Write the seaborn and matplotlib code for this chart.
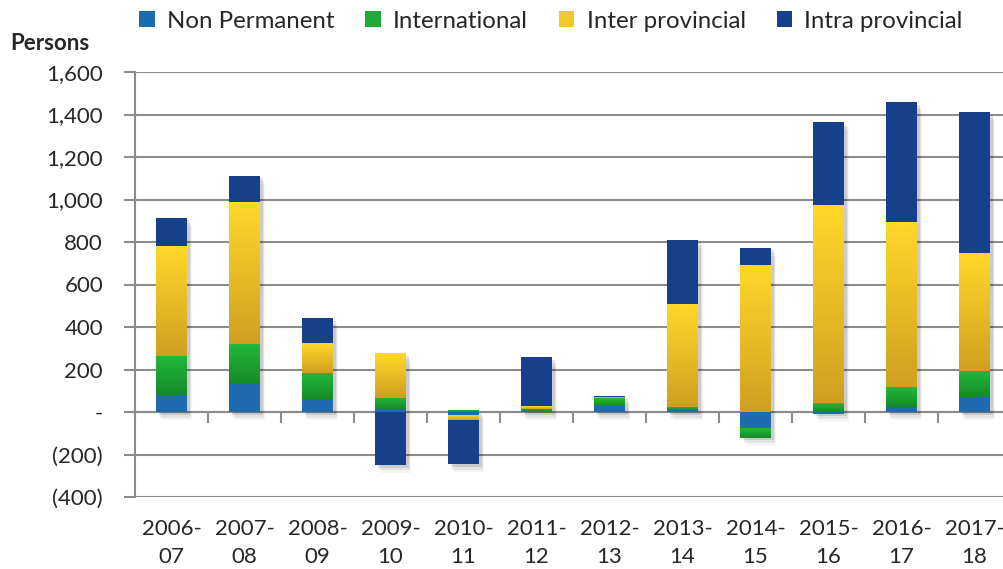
import numpy as np
import pandas as pd
import matplotlib
matplotlib.use("Agg")
import matplotlib.pyplot as plt
import matplotlib.patches as mpatches
import matplotlib.patheffects as pe
import seaborn as sns

# ---------------- data ----------------
years = ["2006-\n07", "2007-\n08", "2008-\n09", "2009-\n10", "2010-\n11", "2011-\n12",
         "2012-\n13", "2013-\n14", "2014-\n15", "2015-\n16", "2016-\n17", "2017-\n18"]
non_permanent = [81, 131, 56, 12, -14, 3, 27, 8, -74, -8, 25, 69]
international = [182, 188, 127, 54, 8, 13, 37, 14, -47, 42, 94, 125]
inter_provincial = [516, 671, 141, 211, -23, 10, 6, 484, 694, 933, 777, 552]
intra_provincial = [136, 122, 117, -249, -208, 232, 5, 305, 80, 390, 563, 666]
series_names = ["Non Permanent", "International", "Inter provincial", "Intra provincial"]
y_ticks = [-400, -200, 0, 200, 400, 600, 800, 1000, 1200, 1400, 1600]
y_tick_labels = ["(400)", "(200)", "-", "200", "400", "600", "800", "1,000", "1,200", "1,400", "1,600"]

# ---------------- style ----------------
colors_top = ["#1F6BB0", "#22B83A", "#FFD82A", "#17408B"]
colors_bot = ["#1F6BB0", "#168A2A", "#CFA020", "#17408B"]
gradient = [False, True, True, False]
grid_col = "#8C8C8C"

sns.set_style("white")
plt.rcParams["font.family"] = ["Lato", "DejaVu Sans"]
FS = 16

fig = plt.figure(figsize=(10.04, 5.69), dpi=100)
ax = fig.add_axes([135 / 1004, (569 - 497) / 569, 876 / 1004, 425 / 569])

all_series = [non_permanent, international, inter_provincial, intra_provincial]
pos_total = np.sum([np.clip(s, 0, None) for s in all_series], axis=0)
neg_total = np.sum([np.clip(s, None, 0) for s in all_series], axis=0)

# soft shadow under each whole stacked bar
df_sh = pd.DataFrame({"year": years, "value": pos_total - neg_total})
for off, al in [((2, -2), 0.10), ((3, -4), 0.07), ((4, -6), 0.04)]:
    sns.barplot(data=df_sh, x="year", y="value", order=years, bottom=neg_total,
                color="white", saturation=1, width=0.42, ax=ax, errorbar=None,
                linewidth=0, zorder=2.5)
    for patch in ax.containers[-1].patches:
        patch.set_path_effects([pe.SimplePatchShadow(offset=off, shadow_rgbFace="#000000", alpha=al)])

pos_base = np.zeros(len(years))
neg_base = np.zeros(len(years))
for k, vals in enumerate(all_series):
    v = np.asarray(vals, dtype=float)
    bottom = np.where(v >= 0, pos_base, neg_base)
    df = pd.DataFrame({"year": years, "value": v})
    sns.barplot(data=df, x="year", y="value", order=years, bottom=bottom,
                color=colors_top[k], saturation=1, width=0.42, ax=ax,
                errorbar=None, linewidth=0, zorder=3)
    cont = ax.containers[-1]
    if gradient[k]:
        for patch in cont.patches:
            x0, y0 = patch.get_x(), patch.get_y()
            w, h = patch.get_width(), patch.get_height()
            ylo, yhi = min(y0, y0 + h), max(y0, y0 + h)
            c_top = np.array(matplotlib.colors.to_rgba(colors_top[k]))
            c_bot = np.array(matplotlib.colors.to_rgba(colors_bot[k]))
            t = np.linspace(0, 1, 64)[:, None, None]
            img = c_bot[None, None, :] * (1 - t) + c_top[None, None, :] * t
            im = ax.imshow(img, extent=[x0, x0 + w, ylo, yhi], origin="lower",
                           aspect="auto", zorder=3.5, interpolation="bilinear")
            im.set_clip_path(patch)
    pos_base = pos_base + np.where(v >= 0, v, 0)
    neg_base = neg_base + np.where(v < 0, v, 0)

# ---------------- axes ----------------
ax.set_xlim(-0.5, len(years) - 0.5)
ax.set_ylim(-400, 1600)
ax.set_yticks(y_ticks)
ax.set_yticklabels(y_tick_labels, fontsize=FS)
ax.set_xlabel("")
ax.set_ylabel("")
ax.tick_params(axis="x", length=0, labelsize=FS, pad=16)
ax.tick_params(axis="y", length=8, width=1.5, color=grid_col, pad=15, left=True)
for lab in ax.get_xticklabels():
    lab.set_linespacing(1.5)
ax.yaxis.grid(True, color=grid_col, linewidth=1.5, zorder=0)
ax.set_axisbelow(True)
for s in ["top", "right", "bottom"]:
    ax.spines[s].set_visible(False)
ax.spines["left"].set_color(grid_col)
ax.spines["left"].set_linewidth(1.5)

# x axis line at zero with ticks between categories
sec = ax.secondary_xaxis(0.2)
sec.set_xticks(np.arange(len(years) + 1) - 0.5)
sec.set_xticklabels([])
sec.tick_params(length=8, width=1.5, color=grid_col, direction="out")
sec.spines["bottom"].set_color(grid_col)
sec.spines["bottom"].set_linewidth(1.5)
for s in ["top", "left", "right"]:
    if s in sec.spines:
        sec.spines[s].set_visible(False)

fig.text(10 / 1004, 1 - 43 / 569, "Persons", fontsize=FS, fontweight="bold",
         ha="left", va="center")

LFS = 17.3
handles = [mpatches.Patch(facecolor=c, edgecolor="none") for c in
           ["#1F6BB0", "#1FAA36", "#F2C826", "#17408B"]]
fig.legend(handles, series_names, loc="center", bbox_to_anchor=(551 / 1004, 1 - 21 / 569),
           ncol=4, frameon=False, fontsize=LFS, handlelength=0.64, handleheight=0.64,
           handletextpad=0.5, columnspacing=1.3, borderaxespad=0)

fig.savefig("out.png", dpi=100)
